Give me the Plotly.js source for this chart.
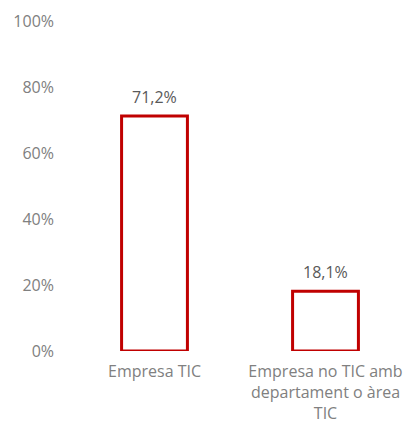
<!DOCTYPE html>
<html><head><meta charset="utf-8">
<script src="https://cdn.plot.ly/plotly-3.0.1.min.js"></script>
<style>html,body{margin:0;padding:0;background:#fff}#c{width:411px;height:423px}</style>
</head><body><div id="c"></div>
<script>
const categories = ["Empresa TIC", "Empresa no TIC amb<br>departament o àrea<br>TIC"];
const values = [71.2, 18.1];
const yTicks = [0, 20, 40, 60, 80, 100];

const fmt = v => v.toFixed(1).replace('.', ',') + '%';
const F = 'Open Sans, sans-serif';

Plotly.newPlot('c', [{
  type: 'bar',
  x: categories,
  y: values,
  width: 0.385,
  marker: {color: '#ffffff', line: {color: '#C00000', width: 3}},
  hoverinfo: 'none'
}], {
  width: 411, height: 423,
  margin: {l: 69, r: 0, t: 21, b: 72},
  paper_bgcolor: '#fff', plot_bgcolor: '#fff',
  showlegend: false,
  font: {family: F, size: 16, color: '#808080'},
  annotations: categories.map((c, i) => ({
    x: c, y: values[i], xref: 'x', yref: 'y', text: fmt(values[i]),
    showarrow: false, yanchor: 'bottom', yshift: 6,
    font: {family: F, size: 16, color: '#595959'}
  })),
  xaxis: {showgrid: false, zeroline: false, showline: false, ticks: '', ticklabelstandoff: 9, tickfont: {family: F, size: 16, color: '#808080'}},
  yaxis: {range: [0, 100], tickvals: yTicks, ticktext: yTicks.map(v => v + '%'), showgrid: false, zeroline: false, showline: false, ticks: '', ticklabelstandoff: 14, tickfont: {family: F, size: 16, color: '#808080'}}
}, {displayModeBar: false, staticPlot: true});
</script></body></html>
